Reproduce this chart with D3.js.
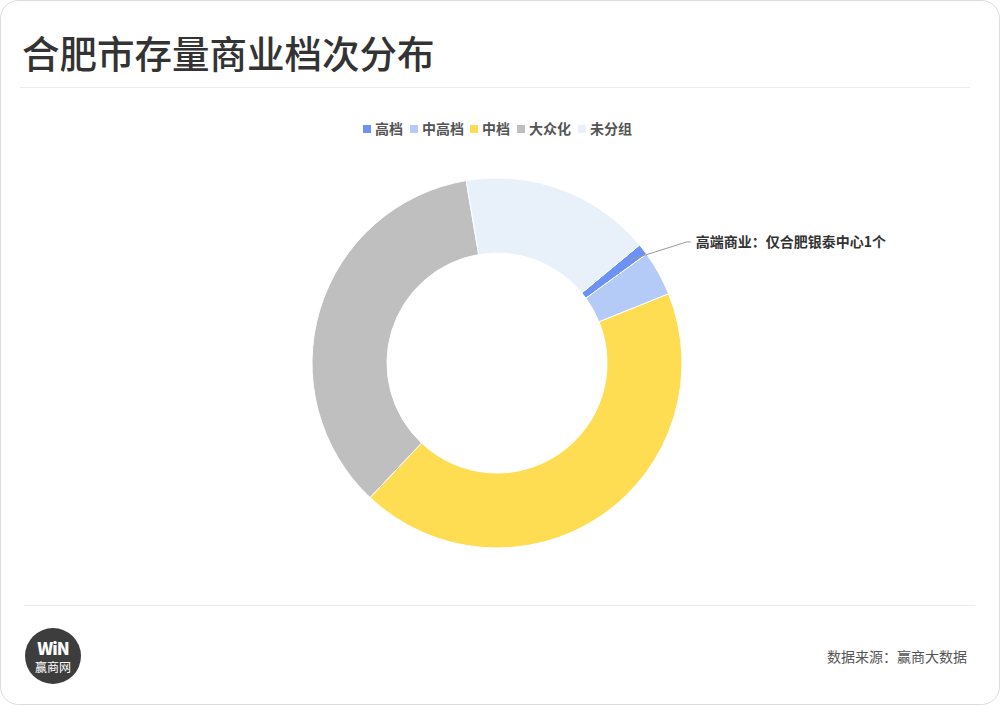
<!DOCTYPE html>
<html>
<head>
<meta charset="utf-8">
<script src="https://cdn.jsdelivr.net/npm/d3@7/dist/d3.min.js"></script>
<style>
  html, body { margin: 0; padding: 0; background: #fff; }
  svg { display: block; }
  text { font-family: "Noto Sans CJK SC", "Noto Sans", sans-serif; }
</style>
</head>
<body>
<svg id="chart" width="1000" height="705"></svg>
<script>
const title = "合肥市存量商业档次分布";
const categories = ["高档", "中高档", "中档", "大众化", "未分组"];
const values = [1, 4, 44, 36, 17];
const colors = ["#6d92f5", "#b4cbf7", "#fedd52", "#bfbfbf", "#e8f1fa"];
const annotation = "高端商业：仅合肥银泰中心1个";
const source = "数据来源：赢商大数据";

const svg = d3.select("#chart");

// card
svg.append("rect").attr("x", 0.5).attr("y", 0.5).attr("width", 999).attr("height", 704)
  .attr("rx", 18).attr("fill", "#fff").attr("stroke", "#dcdcdc");

// title
svg.append("text").attr("x", 22).attr("y", 68).attr("font-size", 37.5).attr("font-weight", 500)
  .attr("fill", "#333").text(title);
svg.append("line").attr("x1", 20).attr("x2", 970).attr("y1", 87.5).attr("y2", 87.5)
  .attr("stroke", "#ececec");
svg.append("line").attr("x1", 24).attr("x2", 975).attr("y1", 605.5).attr("y2", 605.5)
  .attr("stroke", "#ececec");

// legend
const legendX = [363, 410, 470, 517, 578];
const lg = svg.append("g");
categories.forEach((c, i) => {
  lg.append("rect").attr("x", legendX[i]).attr("y", 125).attr("width", 8).attr("height", 8)
    .attr("fill", colors[i]);
  lg.append("text").attr("x", legendX[i] + 12).attr("y", 134).attr("font-size", 14)
    .attr("font-weight", 700).attr("fill", "#555").text(c);
});

// donut
const cx = 497, cy = 363, rOuter = 185, rInner = 110;
const start = 50.4 * Math.PI / 180;
const pie = d3.pie().sort(null).value(d => d).startAngle(start).endAngle(start + 2 * Math.PI);
const arcs = pie(values);
const arc = d3.arc().innerRadius(rInner).outerRadius(rOuter);
const g = svg.append("g").attr("transform", `translate(${cx},${cy})`);
g.selectAll("path").data(arcs).enter().append("path")
  .attr("d", arc).attr("fill", (d, i) => colors[i])
  .attr("stroke", "#fff").attr("stroke-width", 1);

// annotation leader line for first slice
const a0 = arcs[0];
const mid = (a0.startAngle + a0.endAngle) / 2;
const p0 = [Math.sin(mid) * 168, -Math.cos(mid) * 168];
const p1 = [p0[0] + 57, p0[1] - 18];
const p2 = [p1[0] + 4, p1[1]];
g.append("polyline").attr("points", [p0, p1, p2].map(p => p.join(",")).join(" "))
  .attr("fill", "none").attr("stroke", "#999").attr("stroke-width", 1);
g.append("text").attr("x", p2[0] + 5).attr("y", p2[1] + 5).attr("font-size", 14)
  .attr("font-weight", 700).attr("fill", "#333").text(annotation);

// logo
const logo = svg.append("g").attr("transform", "translate(53,656)");
logo.append("circle").attr("r", 28).attr("fill", "#3d3d3d");
logo.append("text").attr("y", -1).attr("text-anchor", "middle").attr("font-size", 17)
  .attr("font-weight", 900).attr("fill", "#fff").attr("font-family", "Arial, sans-serif")
  .attr("letter-spacing", -1).text("WiN");
logo.append("text").attr("y", 16).attr("text-anchor", "middle").attr("font-size", 12)
  .attr("fill", "#fff").text("赢商网");

// source
svg.append("text").attr("x", 967).attr("y", 662).attr("text-anchor", "end").attr("font-size", 14)
  .attr("fill", "#555").text(source);
</script>
</body>
</html>
